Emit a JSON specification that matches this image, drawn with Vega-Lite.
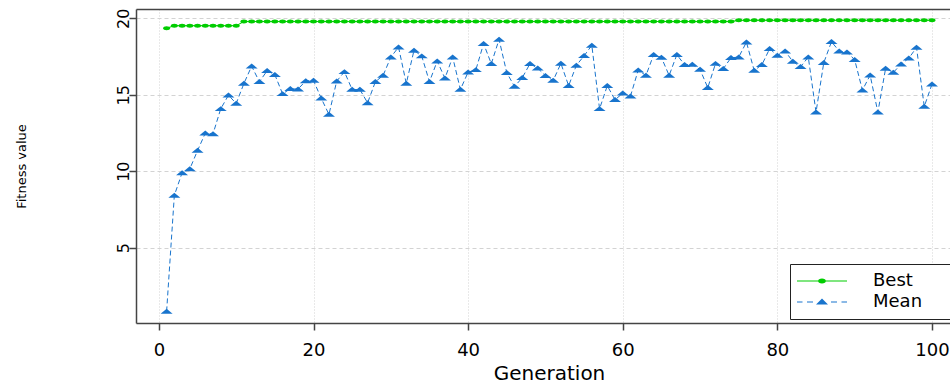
{
  "$schema": "https://vega.github.io/schema/vega-lite/v6.json",
  "width": 814,
  "height": 314,
  "autosize": {"type": "none"},
  "padding": {"left": 136, "top": 9, "right": 0, "bottom": 60},
  "background": "white",
  "config": {"view": {"stroke": null}},
  "data": {"values": [
    {"gen":1,"series":"Best","value":19.35},{"gen":2,"series":"Best","value":19.52},{"gen":3,"series":"Best","value":19.52},{"gen":4,"series":"Best","value":19.52},{"gen":5,"series":"Best","value":19.52},{"gen":6,"series":"Best","value":19.52},{"gen":7,"series":"Best","value":19.52},{"gen":8,"series":"Best","value":19.52},{"gen":9,"series":"Best","value":19.52},{"gen":10,"series":"Best","value":19.52},
    {"gen":11,"series":"Best","value":19.79},{"gen":12,"series":"Best","value":19.79},{"gen":13,"series":"Best","value":19.79},{"gen":14,"series":"Best","value":19.79},{"gen":15,"series":"Best","value":19.79},{"gen":16,"series":"Best","value":19.79},{"gen":17,"series":"Best","value":19.79},{"gen":18,"series":"Best","value":19.79},{"gen":19,"series":"Best","value":19.79},{"gen":20,"series":"Best","value":19.79},
    {"gen":21,"series":"Best","value":19.79},{"gen":22,"series":"Best","value":19.79},{"gen":23,"series":"Best","value":19.79},{"gen":24,"series":"Best","value":19.79},{"gen":25,"series":"Best","value":19.79},{"gen":26,"series":"Best","value":19.79},{"gen":27,"series":"Best","value":19.79},{"gen":28,"series":"Best","value":19.79},{"gen":29,"series":"Best","value":19.79},{"gen":30,"series":"Best","value":19.79},
    {"gen":31,"series":"Best","value":19.79},{"gen":32,"series":"Best","value":19.79},{"gen":33,"series":"Best","value":19.79},{"gen":34,"series":"Best","value":19.79},{"gen":35,"series":"Best","value":19.79},{"gen":36,"series":"Best","value":19.79},{"gen":37,"series":"Best","value":19.79},{"gen":38,"series":"Best","value":19.79},{"gen":39,"series":"Best","value":19.79},{"gen":40,"series":"Best","value":19.79},
    {"gen":41,"series":"Best","value":19.79},{"gen":42,"series":"Best","value":19.79},{"gen":43,"series":"Best","value":19.79},{"gen":44,"series":"Best","value":19.79},{"gen":45,"series":"Best","value":19.79},{"gen":46,"series":"Best","value":19.79},{"gen":47,"series":"Best","value":19.79},{"gen":48,"series":"Best","value":19.79},{"gen":49,"series":"Best","value":19.79},{"gen":50,"series":"Best","value":19.79},
    {"gen":51,"series":"Best","value":19.79},{"gen":52,"series":"Best","value":19.79},{"gen":53,"series":"Best","value":19.79},{"gen":54,"series":"Best","value":19.79},{"gen":55,"series":"Best","value":19.79},{"gen":56,"series":"Best","value":19.79},{"gen":57,"series":"Best","value":19.79},{"gen":58,"series":"Best","value":19.79},{"gen":59,"series":"Best","value":19.79},{"gen":60,"series":"Best","value":19.79},
    {"gen":61,"series":"Best","value":19.79},{"gen":62,"series":"Best","value":19.79},{"gen":63,"series":"Best","value":19.79},{"gen":64,"series":"Best","value":19.79},{"gen":65,"series":"Best","value":19.79},{"gen":66,"series":"Best","value":19.79},{"gen":67,"series":"Best","value":19.79},{"gen":68,"series":"Best","value":19.79},{"gen":69,"series":"Best","value":19.79},{"gen":70,"series":"Best","value":19.79},
    {"gen":71,"series":"Best","value":19.79},{"gen":72,"series":"Best","value":19.79},{"gen":73,"series":"Best","value":19.79},{"gen":74,"series":"Best","value":19.79},{"gen":75,"series":"Best","value":19.87},{"gen":76,"series":"Best","value":19.87},{"gen":77,"series":"Best","value":19.87},{"gen":78,"series":"Best","value":19.87},{"gen":79,"series":"Best","value":19.87},{"gen":80,"series":"Best","value":19.87},
    {"gen":81,"series":"Best","value":19.87},{"gen":82,"series":"Best","value":19.87},{"gen":83,"series":"Best","value":19.87},{"gen":84,"series":"Best","value":19.87},{"gen":85,"series":"Best","value":19.87},{"gen":86,"series":"Best","value":19.87},{"gen":87,"series":"Best","value":19.87},{"gen":88,"series":"Best","value":19.87},{"gen":89,"series":"Best","value":19.87},{"gen":90,"series":"Best","value":19.87},
    {"gen":91,"series":"Best","value":19.87},{"gen":92,"series":"Best","value":19.87},{"gen":93,"series":"Best","value":19.87},{"gen":94,"series":"Best","value":19.87},{"gen":95,"series":"Best","value":19.87},{"gen":96,"series":"Best","value":19.87},{"gen":97,"series":"Best","value":19.87},{"gen":98,"series":"Best","value":19.87},{"gen":99,"series":"Best","value":19.87},{"gen":100,"series":"Best","value":19.87},
    {"gen":1,"series":"Mean","value":0.83},{"gen":2,"series":"Mean","value":8.42},{"gen":3,"series":"Mean","value":9.89},{"gen":4,"series":"Mean","value":10.15},{"gen":5,"series":"Mean","value":11.35},{"gen":6,"series":"Mean","value":12.48},{"gen":7,"series":"Mean","value":12.44},{"gen":8,"series":"Mean","value":14.08},{"gen":9,"series":"Mean","value":14.97},{"gen":10,"series":"Mean","value":14.43},
    {"gen":11,"series":"Mean","value":15.74},{"gen":12,"series":"Mean","value":16.87},{"gen":13,"series":"Mean","value":15.85},{"gen":14,"series":"Mean","value":16.57},{"gen":15,"series":"Mean","value":16.31},{"gen":16,"series":"Mean","value":15.06},{"gen":17,"series":"Mean","value":15.39},{"gen":18,"series":"Mean","value":15.37},{"gen":19,"series":"Mean","value":15.91},{"gen":20,"series":"Mean","value":15.93},
    {"gen":21,"series":"Mean","value":14.77},{"gen":22,"series":"Mean","value":13.71},{"gen":23,"series":"Mean","value":15.89},{"gen":24,"series":"Mean","value":16.5},{"gen":25,"series":"Mean","value":15.34},{"gen":26,"series":"Mean","value":15.34},{"gen":27,"series":"Mean","value":14.47},{"gen":28,"series":"Mean","value":15.85},{"gen":29,"series":"Mean","value":16.26},{"gen":30,"series":"Mean","value":17.46},
    {"gen":31,"series":"Mean","value":18.11},{"gen":32,"series":"Mean","value":15.74},{"gen":33,"series":"Mean","value":17.9},{"gen":34,"series":"Mean","value":17.53},{"gen":35,"series":"Mean","value":15.85},{"gen":36,"series":"Mean","value":17.2},{"gen":37,"series":"Mean","value":16.08},{"gen":38,"series":"Mean","value":17.46},{"gen":39,"series":"Mean","value":15.34},{"gen":40,"series":"Mean","value":16.48},
    {"gen":41,"series":"Mean","value":16.63},{"gen":42,"series":"Mean","value":18.34},{"gen":43,"series":"Mean","value":17.03},{"gen":44,"series":"Mean","value":18.62},{"gen":45,"series":"Mean","value":16.44},{"gen":46,"series":"Mean","value":15.54},{"gen":47,"series":"Mean","value":16.11},{"gen":48,"series":"Mean","value":17.03},{"gen":49,"series":"Mean","value":16.74},{"gen":50,"series":"Mean","value":16.24},
    {"gen":51,"series":"Mean","value":15.93},{"gen":52,"series":"Mean","value":17.05},{"gen":53,"series":"Mean","value":15.59},{"gen":54,"series":"Mean","value":16.92},{"gen":55,"series":"Mean","value":17.55},{"gen":56,"series":"Mean","value":18.23},{"gen":57,"series":"Mean","value":14.08},{"gen":58,"series":"Mean","value":15.59},{"gen":59,"series":"Mean","value":14.67},{"gen":60,"series":"Mean","value":15.1},
    {"gen":61,"series":"Mean","value":14.91},{"gen":62,"series":"Mean","value":16.61},{"gen":63,"series":"Mean","value":16.26},{"gen":64,"series":"Mean","value":17.62},{"gen":65,"series":"Mean","value":17.44},{"gen":66,"series":"Mean","value":16.26},{"gen":67,"series":"Mean","value":17.62},{"gen":68,"series":"Mean","value":16.96},{"gen":69,"series":"Mean","value":16.98},{"gen":70,"series":"Mean","value":16.65},
    {"gen":71,"series":"Mean","value":15.46},{"gen":72,"series":"Mean","value":17.04},{"gen":73,"series":"Mean","value":16.7},{"gen":74,"series":"Mean","value":17.42},{"gen":75,"series":"Mean","value":17.46},{"gen":76,"series":"Mean","value":18.44},{"gen":77,"series":"Mean","value":16.59},{"gen":78,"series":"Mean","value":16.96},{"gen":79,"series":"Mean","value":18.01},{"gen":80,"series":"Mean","value":17.57},
    {"gen":81,"series":"Mean","value":17.85},{"gen":82,"series":"Mean","value":17.18},{"gen":83,"series":"Mean","value":16.83},{"gen":84,"series":"Mean","value":17.46},{"gen":85,"series":"Mean","value":13.86},{"gen":86,"series":"Mean","value":17.09},{"gen":87,"series":"Mean","value":18.47},{"gen":88,"series":"Mean","value":17.85},{"gen":89,"series":"Mean","value":17.79},{"gen":90,"series":"Mean","value":17.29},
    {"gen":91,"series":"Mean","value":15.3},{"gen":92,"series":"Mean","value":16.28},{"gen":93,"series":"Mean","value":13.86},{"gen":94,"series":"Mean","value":16.72},{"gen":95,"series":"Mean","value":16.46},{"gen":96,"series":"Mean","value":17.0},{"gen":97,"series":"Mean","value":17.39},{"gen":98,"series":"Mean","value":18.09},{"gen":99,"series":"Mean","value":14.23},{"gen":100,"series":"Mean","value":15.69}
  ]},
  "encoding": {
    "y": {
      "field": "value", "type": "quantitative", "title": "Fitness value",
      "scale": {"domain": [0.07, 20.61], "nice": false, "zero": false},
      "axis": {
        "values": [5, 10, 15, 20],
        "grid": true, "gridColor": "#d3d3d3", "gridDash": [4, 3], "gridWidth": 1,
        "domain": true, "domainColor": "#444444", "domainWidth": 1.5,
        "ticks": true, "tickColor": "#444444", "tickSize": 7, "tickWidth": 1.5,
        "labelAngle": 270, "labelAlign": "center", "labelBaseline": "alphabetic", "labelPadding": 1,
        "labelFont": "DejaVu Sans", "labelFontSize": 16, "labelColor": "black",
        "labelOverlap": false, "labelFlush": false,
        "titleFont": "DejaVu Sans", "titleFontSize": 13, "titleFontWeight": "normal", "titleColor": "black",
        "titleAngle": 270, "titleX": -115, "titleY": 157, "titleAlign": "center", "titleBaseline": "middle"
      }
    }
  },
  "resolve": {"axis": {"x": "independent"}},
  "layer": [
    {
      "transform": [{"filter": "datum.series === 'Best'"}],
      "mark": {"type": "line", "color": "#00CD00", "strokeWidth": 1},
      "encoding": {
        "x": {
          "field": "gen", "type": "quantitative", "title": "Generation",
          "scale": {"domain": [-2.96, 102.33], "nice": false, "zero": false},
          "axis": {
            "values": [0, 20, 40, 60, 80, 100],
            "grid": true, "gridColor": "#d3d3d3", "gridDash": [1, 2], "gridWidth": 1,
            "domain": true, "domainColor": "#444444", "domainWidth": 1.5,
            "ticks": true, "tickColor": "#444444", "tickSize": 7, "tickWidth": 1.5,
            "labelFont": "DejaVu Sans", "labelFontSize": 18, "labelColor": "black", "labelPadding": 11,
            "labelOverlap": false, "labelFlush": false,
            "titleFont": "DejaVu Sans", "titleFontSize": 20, "titleFontWeight": "normal", "titleColor": "black",
            "titleX": 413, "titleY": 50, "titleAlign": "center", "titleBaseline": "middle"
          }
        }
      }
    },
    {
      "transform": [{"filter": "datum.series === 'Mean'"}],
      "mark": {"type": "line", "color": "#1874CD", "strokeWidth": 1, "strokeDash": [5, 3]},
      "encoding": {
        "x": {
          "field": "gen", "type": "quantitative",
          "scale": {"domain": [-2.96, 102.33], "nice": false, "zero": false},
          "axis": {"orient": "top", "labels": false, "ticks": false, "grid": false, "domain": true, "domainColor": "#444444", "domainWidth": 1.5, "title": null}
        }
      }
    },
    {
      "transform": [{"filter": "datum.series === 'Best'"}],
      "mark": {"type": "point", "filled": true, "opacity": 1, "color": "#00CD00", "size": 64, "strokeWidth": 0,
               "shape": "M-0.9,0A0.9,0.5 0 1,0 0.9,0A0.9,0.5 0 1,0 -0.9,0Z"},
      "encoding": {"x": {"field": "gen", "type": "quantitative", "axis": null}}
    },
    {
      "transform": [{"filter": "datum.series === 'Mean'"}],
      "mark": {"type": "point", "filled": true, "opacity": 1, "color": "#1874CD", "size": 144, "strokeWidth": 0,
               "shape": "M-1,0.38L1,0.38L0,-0.45Z"},
      "encoding": {"x": {"field": "gen", "type": "quantitative", "axis": null}}
    },
    {
      "transform": [{"filter": "false"}],
      "mark": {"type": "point", "filled": true, "opacity": 1, "size": 100, "strokeWidth": 0},
      "encoding": {
        "x": {"field": "gen", "type": "quantitative", "axis": null},
        "color": {
          "field": "series", "type": "nominal",
          "scale": {"domain": ["Best", "Mean"], "range": ["#00CD00", "#1874CD"]},
          "legend": {
            "orient": "none", "legendX": 654, "legendY": 255, "title": null,
            "fillColor": "white", "strokeColor": "#222222", "padding": 8,
            "symbolSize": 100, "symbolOffset": 15, "labelOffset": 42, "rowPadding": 3,
            "labelFont": "DejaVu Sans", "labelFontSize": 18, "labelColor": "black", "labelLimit": 300,
            "labelExpr": "datum.label + '\u2800\u2800'"
          }
        },
        "shape": {
          "field": "series", "type": "nominal",
          "scale": {"domain": ["Best", "Mean"], "range": [
            "M-5,-0.1H-0.8V0.1H-5ZM0.8,-0.1H5V0.1H0.8ZM-0.8,0A0.8,0.5 0 1,0 0.8,0A0.8,0.5 0 1,0 -0.8,0Z",
            "M-5,-0.1H-3.9V0.1H-5ZM-3,-0.1H-1.8V0.1H-3ZM1.8,-0.1H3V0.1H1.8ZM3.9,-0.1H5V0.1H3.9ZM-1.2,0.5L1.2,0.5L0,-0.7Z"
          ]},
          "legend": {
            "orient": "none", "legendX": 654, "legendY": 255, "title": null,
            "fillColor": "white", "strokeColor": "#222222", "padding": 8,
            "symbolSize": 100, "symbolOffset": 15, "labelOffset": 42, "rowPadding": 3,
            "labelFont": "DejaVu Sans", "labelFontSize": 18, "labelColor": "black", "labelLimit": 300,
            "labelExpr": "datum.label + '\u2800\u2800'"
          }
        }
      }
    }
  ]
}
